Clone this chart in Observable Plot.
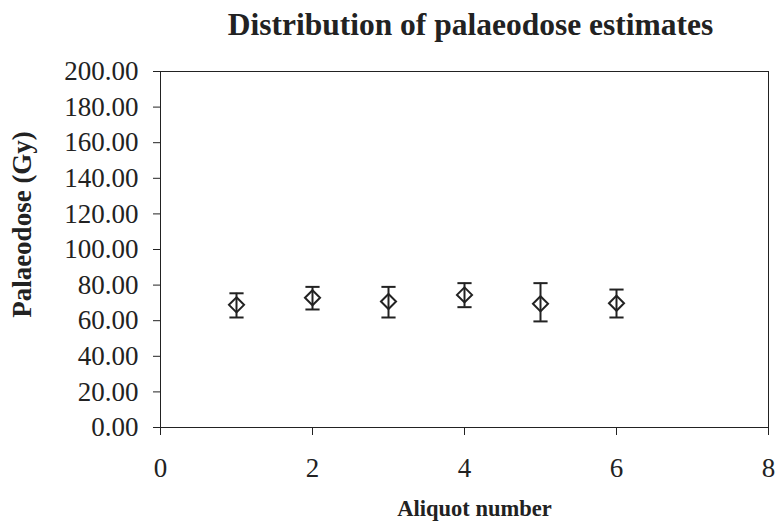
<!DOCTYPE html>
<html>
<head>
<meta charset="utf-8">
<script src="https://cdn.jsdelivr.net/npm/d3@7"></script>
<script src="https://cdn.jsdelivr.net/npm/@observablehq/plot@0.6"></script>
<style>
  html, body { margin: 0; padding: 0; background: #fff; }
  svg { font-family: "Liberation Serif", "DejaVu Serif", serif; }
</style>
</head>
<body>
<div id="chart"></div>
<script>
const aliquot = [1, 2, 3, 4, 5, 6];
const palaeodose = [68.9, 72.9, 70.8, 74.5, 69.5, 69.8];
const errLow = [61.8, 66.3, 61.8, 67.6, 59.6, 61.8];
const errHigh = [75.4, 79.0, 79.0, 81.1, 81.1, 77.5];
const xTicks = [0, 2, 4, 6, 8];
const yTicks = [0, 20, 40, 60, 80, 100, 120, 140, 160, 180, 200];

const data = aliquot.map((a, i) => ({a, v: palaeodose[i], lo: errLow[i], hi: errHigh[i]}));

const capSymbol = {
  draw(ctx, size) {
    const w = Math.sqrt(size) / 2;
    ctx.moveTo(-w, 0);
    ctx.lineTo(w, 0);
  }
};

const chart = Plot.plot({
  width: 775,
  height: 522,
  marginLeft: 160,
  marginRight: 7,
  marginTop: 71,
  marginBottom: 95,
  style: {fontFamily: "Liberation Serif", color: "#222", background: "#fff"},
  x: {domain: [0, 8]},
  y: {domain: [0, 200]},
  marks: [
    Plot.frame({stroke: "#222", strokeWidth: 1}),
    Plot.axisY({ticks: yTicks, tickFormat: d3.format(".2f"), tickSize: 7, tickPadding: 15, fontSize: 27, label: null, stroke: "#222", fill: "#222"}),
    Plot.axisX({ticks: xTicks, tickSize: 8, tickPadding: 22, fontSize: 27, label: null, stroke: "#222", fill: "#222"}),
    Plot.ruleX(data, {x: "a", y1: "lo", y2: "hi", stroke: "#222", strokeWidth: 2}),
    Plot.dot(data, {x: "a", y: "lo", symbol: capSymbol, r: 8, stroke: "#222", strokeWidth: 2}),
    Plot.dot(data, {x: "a", y: "hi", symbol: capSymbol, r: 8, stroke: "#222", strokeWidth: 2}),
    Plot.dot(data, {x: "a", y: "v", symbol: "diamond2", r: 6.8, stroke: "#222", fill: "none", strokeWidth: 2}),
    Plot.text(["Distribution of palaeodose estimates"], {frameAnchor: "top", lineAnchor: "middle", dx: 6, dy: -46.6, fontSize: 31.5, fontWeight: "bold", fill: "#222"}),
    Plot.text(["Aliquot number"], {frameAnchor: "bottom", lineAnchor: "middle", dx: 10, dy: 81, fontSize: 22.5, fontWeight: "bold", fill: "#222"}),
    Plot.text(["Palaeodose (Gy)"], {frameAnchor: "left", textAnchor: "middle", lineAnchor: "middle", dx: -138, dy: -25, rotate: -90, fontSize: 27, fontWeight: "bold", fill: "#222"})
  ]
});
document.getElementById("chart").appendChild(chart);
</script>
</body>
</html>
